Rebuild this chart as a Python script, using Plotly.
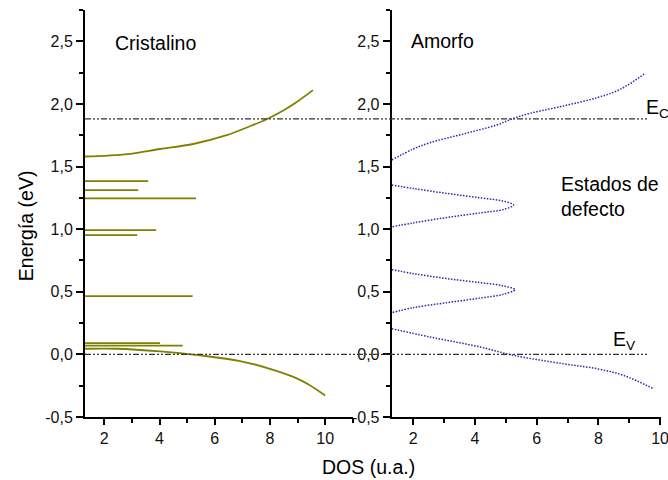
import plotly.graph_objects as go

# ---- Cristalino: band edges (DOS vs energy) ----
cryst_cb_dos = [1.3, 2.86, 4.02, 5.22, 6.43, 7.28, 7.9, 8.5, 9.0, 9.56]
cryst_cb_e = [1.58, 1.60, 1.64, 1.68, 1.75, 1.822, 1.88, 1.95, 2.02, 2.11]

cryst_vb_dos = [1.3, 2.45, 4.02, 5.47, 6.92, 8.0, 8.85, 9.4, 10.0]
cryst_vb_e = [0.045, 0.045, 0.024, -0.008, -0.053, -0.115, -0.18, -0.24, -0.328]

# discrete defect levels (energy, DOS extent)
cryst_levels_e = [1.384, 1.312, 1.246, 0.992, 0.952, 0.466, 0.09, 0.07]
cryst_levels_dos = [3.59, 3.23, 5.32, 3.88, 3.19, 5.2, 4.02, 4.84]

# ---- Amorfo: band tails and defect bands ----
am_cb_dos = [1.3, 2.0, 2.54, 3.62, 4.71, 5.2, 5.79, 6.87, 7.96, 8.71, 9.52]
am_cb_e = [1.552, 1.64, 1.69, 1.76, 1.832, 1.88, 1.925, 1.984, 2.05, 2.117, 2.245]

am_d1_dos = [1.3, 2.0, 3.09, 4.17, 4.92, 5.25, 4.92, 4.17, 3.09, 2.0, 1.3]
am_d1_e = [1.352, 1.325, 1.285, 1.25, 1.224, 1.192, 1.157, 1.13, 1.093, 1.05, 1.018]

am_d2_dos = [1.3, 2.0, 3.09, 4.17, 4.92, 5.3, 4.92, 4.17, 3.09, 2.0, 1.3]
am_d2_e = [0.677, 0.645, 0.605, 0.573, 0.547, 0.517, 0.48, 0.45, 0.413, 0.373, 0.333]

am_vb_dos = [1.3, 2.54, 4.17, 5.25, 6.87, 7.96, 8.82, 9.79]
am_vb_e = [0.205, 0.139, 0.059, -0.008, -0.075, -0.115, -0.168, -0.275]

# reference energies
E_C = 1.88
E_V = 0.0

# ticks
y_tick_vals = [-0.5, 0.0, 0.5, 1.0, 1.5, 2.0, 2.5]
y_tick_text = ["-0,5", "0,0", "0,5", "1,0", "1,5", "2,0", "2,5"]
y_minor_vals = [-0.25, 0.25, 0.75, 1.25, 1.75, 2.25, 2.75]
x_tick_vals = [2, 4, 6, 8, 10]
x_tick_text = ["2", "4", "6", "8", "10"]
x_minor_left = [3, 5, 7, 9, 11]
x_minor_right = [3, 5, 7, 9]

OLIVE = "#808000"
BLUE = "#2a2aa8"
FONT = "Liberation Sans, Arial, sans-serif"
W = 668.0

fig = go.Figure()

olive_line = dict(color=OLIVE, width=1.8)
fig.add_trace(go.Scatter(x=cryst_cb_dos, y=cryst_cb_e, mode="lines",
                         line=dict(shape="spline", **olive_line),
                         xaxis="x", yaxis="y", showlegend=False))
fig.add_trace(go.Scatter(x=cryst_vb_dos, y=cryst_vb_e, mode="lines",
                         line=dict(shape="spline", **olive_line),
                         xaxis="x", yaxis="y", showlegend=False))

lx, ly = [], []
for e, d in zip(cryst_levels_e, cryst_levels_dos):
    lx += [1.3, d, None]
    ly += [e, e, None]
fig.add_trace(go.Scatter(x=lx, y=ly, mode="lines", line=olive_line,
                         xaxis="x", yaxis="y", showlegend=False))

blue_line = dict(color=BLUE, width=1.5, dash="1.5px,1.5px", shape="spline")
for xs, ys in [(am_cb_dos, am_cb_e), (am_d1_dos, am_d1_e),
               (am_d2_dos, am_d2_e), (am_vb_dos, am_vb_e)]:
    fig.add_trace(go.Scatter(x=xs, y=ys, mode="lines", line=blue_line,
                             xaxis="x2", yaxis="y2", showlegend=False))

# E_C and E_V reference lines across both panels
for ev in (E_C, E_V):
    fig.add_shape(type="line", xref="paper", yref="y",
                  x0=85 / W, x1=647 / W, y0=ev, y1=ev,
                  line=dict(color="#333333", width=1.2,
                            dash="6px,2px,2px,2px,2px,2px"))

axis_common = dict(showline=True, linecolor="black", linewidth=2,
                   showgrid=False, zeroline=False, ticks="outside",
                   tickcolor="black", tickwidth=1.5,
                   ticklabeloverflow="allow", automargin=False,
                   tickfont=dict(family=FONT, size=16, color="#111111"))

xa = dict(axis_common, tickmode="array", tickvals=x_tick_vals,
          ticktext=x_tick_text, ticklen=6)
ya = dict(axis_common, range=[-0.5, 2.75], tickmode="array",
          tickvals=y_tick_vals, ticktext=y_tick_text, ticklen=7,
          minor=dict(tickmode="array", tickvals=y_minor_vals, ticklen=4,
                     tickwidth=1.5, tickcolor="black", ticks="outside"),
          domain=[0, 1])

fig.update_layout(
    width=668, height=480,
    margin=dict(l=0, r=0, t=10, b=63),
    paper_bgcolor="white", plot_bgcolor="white",
    font=dict(family=FONT, size=19.5, color="black"),
    xaxis=dict(xa, domain=[85 / W, 353 / W], range=[1.3, 11.01], anchor="y",
               minor=dict(tickmode="array", tickvals=x_minor_left, ticklen=4,
                          tickwidth=1.5, tickcolor="black", ticks="outside")),
    yaxis=dict(ya, anchor="x"),
    xaxis2=dict(xa, domain=[391.7 / W, 661 / W], range=[1.3, 10.03], anchor="y2",
                minor=dict(tickmode="array", tickvals=x_minor_right, ticklen=4,
                           tickwidth=1.5, tickcolor="black", ticks="outside")),
    yaxis2=dict(ya, anchor="x2"),
)

ann = [
    dict(text="Cristalino", x=3.86, y=2.49, xref="x", yref="y",
         xanchor="center", yanchor="middle"),
    dict(text="Amorfo", x=2.95, y=2.50, xref="x2", yref="y2",
         xanchor="center", yanchor="middle"),
    dict(text="Estados de<br>defecto", x=6.72, y=1.264, xref="x2", yref="y2",
         xanchor="left", yanchor="middle", align="left"),
    dict(text="E<sub>C</sub>", x=9.47, y=1.96, xref="x2", yref="y2",
         xanchor="left", yanchor="middle"),
    dict(text="E<sub>V</sub>", x=8.4, y=0.11, xref="x2", yref="y2",
         xanchor="left", yanchor="middle"),
    dict(text="Energía (eV)", x=26 / W, y=1.024, xref="paper", yref="y",
         xanchor="center", yanchor="middle", textangle=-90),
    dict(text="DOS (u.a.)", x=368 / W, y=-0.123, xref="paper", yref="paper",
         xanchor="center", yanchor="middle"),
]
for a in ann:
    fig.add_annotation(showarrow=False, **a)

fig.write_html("out.html")
